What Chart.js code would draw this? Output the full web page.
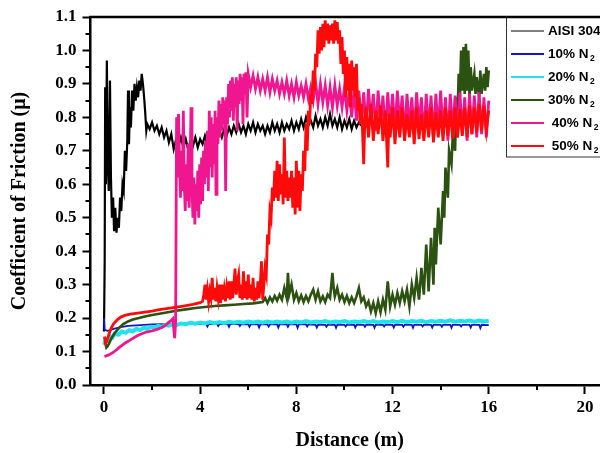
<!DOCTYPE html>
<html>
<head>
<meta charset="utf-8">
<title>Coefficient of friction against sliding distance</title>
<script src="https://cdn.jsdelivr.net/npm/chart.js@4/dist/chart.umd.min.js"></script>
<style>
  html, body { margin: 0; padding: 0; background: #fff; overflow: hidden; }
  #wrap { position: relative; width: 630px; height: 453px; }
</style>
</head>
<body>
<div id="wrap"><canvas id="cof"></canvas></div>
<script>
/* Coefficient of friction against sliding distance for plain AISI 304
   and the four nitrided conditions (10-50 % N2). Each trace is a list of
   [distance m, friction coefficient] pairs;
   the noisy stretches are kept as up/down pairs so the band shows. */

var seriesLabels = ["AISI 304", "10% N\u2082", "20% N\u2082", "30% N\u2082", " 40% N\u2082", " 50% N\u2082"];

var xTickValues = [0, 4, 8, 12, 16, 20];
var xMinorValues = [2, 6, 10, 14, 18];
var yTickValues = [0, 0.1, 0.2, 0.3, 0.4, 0.5, 0.6, 0.7, 0.8, 0.9, 1.0, 1.1];
var yMinorValues = [0.05, 0.15, 0.25, 0.35, 0.45, 0.55, 0.65, 0.75, 0.85, 0.95, 1.05];

var aisi304 = [
  [0, 0.16], [0.03, 0.37], [0.05, 0.89], [0.08, 0.60], [0.12, 0.97], [0.16, 0.66], [0.20, 0.58], [0.25, 0.91],
  [0.29, 0.62], [0.33, 0.50], [0.38, 0.56], [0.42, 0.46], [0.47, 0.53], [0.52, 0.455], [0.57, 0.50], [0.62, 0.47],
  [0.67, 0.56], [0.72, 0.52], [0.77, 0.60], [0.82, 0.58], [0.87, 0.70], [0.92, 0.64], [0.97, 0.73], [1.00, 0.88],
  [1.04, 0.72], [1.08, 0.83], [1.12, 0.77], [1.17, 0.88], [1.22, 0.82], [1.27, 0.90], [1.32, 0.85], [1.37, 0.89],
  [1.42, 0.86], [1.47, 0.91], [1.52, 0.88], [1.57, 0.93], [1.62, 0.90], [1.67, 0.86], [1.71, 0.82], [1.76, 0.76],
  [1.80, 0.78], [1.9, 0.765], [2.0, 0.785], [2.1, 0.76], [2.2, 0.775], [2.3, 0.75], [2.4, 0.77], [2.5, 0.74],
  [2.6, 0.76], [2.7, 0.725], [2.8, 0.75], [2.9, 0.705], [3.0, 0.735], [3.1, 0.715], [3.2, 0.74], [3.3, 0.71],
  [3.4, 0.735], [3.5, 0.705], [3.6, 0.73], [3.7, 0.715], [3.8, 0.74], [3.9, 0.71], [4.0, 0.735], [4.1, 0.72],
  [4.2, 0.745], [4.3, 0.72], [4.4, 0.75], [4.5, 0.73], [4.6, 0.755], [4.7, 0.735], [4.8, 0.76], [4.9, 0.74],
  [5.0, 0.765], [5.1, 0.745], [5.2, 0.77], [5.3, 0.75], [5.4, 0.775], [5.5, 0.755], [5.6, 0.78], [5.7, 0.755],
  [5.8, 0.775], [5.9, 0.75], [6.0, 0.78], [6.1, 0.76], [6.2, 0.785], [6.3, 0.755], [6.4, 0.78], [6.5, 0.76],
  [6.6, 0.775], [6.7, 0.75], [6.8, 0.775], [6.9, 0.755], [7.0, 0.785], [7.1, 0.76], [7.2, 0.78], [7.3, 0.755],
  [7.4, 0.785], [7.5, 0.76], [7.6, 0.78], [7.7, 0.765], [7.8, 0.79], [7.9, 0.76], [8.0, 0.785], [8.1, 0.765],
  [8.2, 0.795], [8.3, 0.77], [8.4, 0.80], [8.5, 0.775], [8.6, 0.79], [8.7, 0.77], [8.8, 0.805], [8.9, 0.775],
  [9.0, 0.795], [9.1, 0.77], [9.2, 0.80], [9.3, 0.775], [9.4, 0.81], [9.5, 0.775], [9.6, 0.795], [9.7, 0.77],
  [9.8, 0.80], [9.9, 0.765], [10.0, 0.79], [10.1, 0.77], [10.2, 0.795], [10.3, 0.765], [10.4, 0.79], [10.5, 0.77],
  [10.6, 0.785], [10.7, 0.775]
];

var nitrided10 = [
  [0, 0.20], [0.03, 0.165], [0.15, 0.162], [0.4, 0.168], [0.7, 0.173], [1.0, 0.177], [1.5, 0.179], [2.0, 0.181],
  [2.5, 0.182], [3.0, 0.182], [3.5, 0.182], [4.0, 0.182], [4.25, 0.182], [4.3, 0.175], [4.35, 0.182], [4.7, 0.182],
  [4.75, 0.176], [4.8, 0.182], [5.15, 0.182], [5.2, 0.174], [5.25, 0.182], [5.6, 0.182], [5.65, 0.176], [5.7, 0.182],
  [6.0, 0.181], [6.05, 0.174], [6.1, 0.181], [6.4, 0.181], [6.45, 0.172], [6.5, 0.181], [6.8, 0.181], [6.85, 0.175],
  [6.9, 0.181], [7.2, 0.181], [7.25, 0.172], [7.3, 0.181], [7.6, 0.181], [7.65, 0.174], [7.7, 0.181], [8.0, 0.181],
  [8.05, 0.171], [8.1, 0.181], [8.4, 0.181], [8.45, 0.175], [8.5, 0.181], [8.8, 0.180], [8.85, 0.172], [8.9, 0.180],
  [9.2, 0.180], [9.25, 0.174], [9.3, 0.180], [9.6, 0.180], [9.65, 0.171], [9.7, 0.180], [10.0, 0.180], [10.05, 0.175],
  [10.1, 0.180], [10.4, 0.180], [10.45, 0.172], [10.5, 0.180], [10.8, 0.180], [10.85, 0.174], [10.9, 0.180], [11.2, 0.180],
  [11.25, 0.171], [11.3, 0.180], [11.6, 0.180], [11.65, 0.175], [11.7, 0.180], [12.0, 0.180], [12.05, 0.172], [12.1, 0.180],
  [12.4, 0.180], [12.45, 0.174], [12.5, 0.180], [12.8, 0.180], [12.85, 0.171], [12.9, 0.180], [13.2, 0.180], [13.25, 0.175],
  [13.3, 0.180], [13.6, 0.180], [13.65, 0.172], [13.7, 0.180], [14.0, 0.180], [14.05, 0.174], [14.1, 0.180], [14.4, 0.180],
  [14.45, 0.171], [14.5, 0.180], [14.8, 0.180], [14.85, 0.175], [14.9, 0.180], [15.2, 0.180], [15.25, 0.172], [15.3, 0.180],
  [15.6, 0.180], [15.65, 0.170], [15.7, 0.180], [16.0, 0.179]
];

var nitrided20 = [
  [0.02, 0.12], [0.05, 0.135], [0.15, 0.132], [0.25, 0.146], [0.35, 0.142], [0.45, 0.154], [0.6, 0.15], [0.75, 0.16],
  [0.9, 0.156], [1.05, 0.164], [1.2, 0.16], [1.35, 0.168], [1.5, 0.164], [1.65, 0.171], [1.8, 0.168], [1.95, 0.174],
  [2.1, 0.172], [2.25, 0.177], [2.4, 0.174], [2.55, 0.179], [2.7, 0.177], [2.85, 0.181], [3.0, 0.179], [3.2, 0.184],
  [3.4, 0.182], [3.6, 0.186], [3.8, 0.183], [4.0, 0.187], [4.2, 0.184], [4.4, 0.188], [4.6, 0.185], [4.8, 0.188],
  [5.0, 0.185], [5.2, 0.189], [5.4, 0.186], [5.6, 0.189], [5.8, 0.186], [6.0, 0.19], [6.2, 0.187], [6.4, 0.19],
  [6.6, 0.186], [6.8, 0.19], [7.0, 0.187], [7.2, 0.19], [7.4, 0.187], [7.6, 0.19], [7.8, 0.186], [8.0, 0.19],
  [8.2, 0.187], [8.4, 0.191], [8.6, 0.187], [8.8, 0.19], [9.0, 0.188], [9.2, 0.191], [9.4, 0.187], [9.6, 0.19],
  [9.8, 0.188], [10.0, 0.191], [10.2, 0.187], [10.4, 0.19], [10.6, 0.188], [10.8, 0.191], [11.0, 0.188], [11.2, 0.191],
  [11.4, 0.187], [11.6, 0.19], [11.8, 0.188], [12.0, 0.191], [12.2, 0.188], [12.4, 0.192], [12.6, 0.188], [12.8, 0.191],
  [13.0, 0.189], [13.2, 0.192], [13.4, 0.188], [13.6, 0.191], [13.8, 0.189], [14.0, 0.192], [14.2, 0.189], [14.4, 0.193],
  [14.6, 0.189], [14.8, 0.192], [15.0, 0.19], [15.2, 0.193], [15.4, 0.189], [15.6, 0.193], [15.8, 0.19], [16.0, 0.192]
];

var nitrided30 = [
  [0.05, 0.13], [0.1, 0.112], [0.15, 0.116], [0.22, 0.125], [0.3, 0.138], [0.4, 0.15], [0.5, 0.16], [0.65, 0.172],
  [0.8, 0.182], [1.0, 0.19], [1.2, 0.196], [1.45, 0.2], [1.7, 0.205], [2.0, 0.209], [2.3, 0.213], [2.6, 0.217],
  [3.0, 0.222], [3.4, 0.226], [3.8, 0.23], [4.2, 0.233], [4.6, 0.236], [5.0, 0.238], [5.4, 0.24], [5.8, 0.242],
  [6.2, 0.244], [6.6, 0.248], [6.7, 0.26], [6.8, 0.245], [6.9, 0.262], [7.0, 0.25], [7.1, 0.266], [7.2, 0.252],
  [7.3, 0.27], [7.4, 0.255], [7.5, 0.29], [7.6, 0.26], [7.65, 0.335], [7.7, 0.27], [7.8, 0.30], [7.9, 0.255],
  [8.0, 0.275], [8.1, 0.25], [8.2, 0.268], [8.3, 0.248], [8.4, 0.266], [8.5, 0.25], [8.6, 0.27], [8.7, 0.285],
  [8.8, 0.255], [8.9, 0.28], [9.0, 0.25], [9.1, 0.265], [9.2, 0.248], [9.3, 0.27], [9.4, 0.26], [9.5, 0.335],
  [9.55, 0.29], [9.6, 0.265], [9.7, 0.29], [9.8, 0.255], [9.9, 0.27], [10.0, 0.248], [10.1, 0.266], [10.2, 0.245],
  [10.3, 0.262], [10.4, 0.245], [10.5, 0.265], [10.6, 0.29], [10.7, 0.25], [10.8, 0.262], [10.9, 0.235], [11.0, 0.25],
  [11.1, 0.22], [11.2, 0.245], [11.3, 0.215], [11.4, 0.25], [11.5, 0.218], [11.6, 0.255], [11.7, 0.225], [11.8, 0.31],
  [11.9, 0.235], [12.0, 0.27], [12.1, 0.24], [12.2, 0.275], [12.3, 0.245], [12.4, 0.28], [12.5, 0.25], [12.6, 0.285],
  [12.7, 0.235], [12.8, 0.30], [12.9, 0.26], [13.0, 0.32], [13.1, 0.255], [13.2, 0.35], [13.3, 0.27], [13.4, 0.42],
  [13.5, 0.28], [13.6, 0.44], [13.7, 0.30], [13.75, 0.47], [13.8, 0.36], [13.9, 0.53], [14.0, 0.42], [14.1, 0.58],
  [14.15, 0.50], [14.2, 0.65], [14.3, 0.56], [14.35, 0.70], [14.45, 0.66], [14.5, 0.74], [14.6, 0.70], [14.65, 0.86],
  [14.7, 0.80], [14.75, 0.93], [14.8, 0.86], [14.85, 1.0], [14.9, 0.88], [14.95, 1.01], [15.0, 0.87], [15.05, 1.02],
  [15.1, 0.88], [15.15, 1.0], [15.2, 0.86], [15.25, 0.95], [15.3, 0.88], [15.4, 0.93], [15.45, 0.87], [15.5, 0.92],
  [15.6, 0.86], [15.65, 0.94], [15.7, 0.87], [15.8, 0.93], [15.85, 0.88], [15.9, 0.95], [15.95, 0.89], [16.0, 0.94]
];

var nitrided40 = [
  [0.02, 0.085], [0.2, 0.09], [0.4, 0.098], [0.6, 0.11], [0.87, 0.125], [1.1, 0.135], [1.4, 0.148], [1.7, 0.157],
  [2.0, 0.162], [2.2, 0.166], [2.4, 0.172], [2.55, 0.178], [2.7, 0.188], [2.8, 0.193], [2.86, 0.198], [2.9, 0.17],
  [2.94, 0.14], [2.98, 0.19], [3.02, 0.80], [3.06, 0.62], [3.1, 0.81], [3.14, 0.66], [3.18, 0.56], [3.22, 0.70],
  [3.26, 0.58], [3.3, 0.82], [3.34, 0.60], [3.38, 0.52], [3.42, 0.66], [3.46, 0.55], [3.5, 0.72], [3.54, 0.53],
  [3.58, 0.64], [3.62, 0.83], [3.66, 0.58], [3.7, 0.50], [3.74, 0.62], [3.78, 0.48], [3.82, 0.60], [3.86, 0.52],
  [3.9, 0.64], [3.94, 0.50], [3.98, 0.66], [4.02, 0.54], [4.06, 0.68], [4.1, 0.55], [4.14, 0.70], [4.18, 0.60],
  [4.22, 0.73], [4.26, 0.62], [4.3, 0.76], [4.34, 0.58], [4.38, 0.82], [4.42, 0.65], [4.46, 0.80], [4.5, 0.62],
  [4.54, 0.78], [4.58, 0.66], [4.62, 0.82], [4.66, 0.57], [4.7, 0.80], [4.74, 0.72], [4.78, 0.85], [4.82, 0.74],
  [4.86, 0.84], [4.9, 0.76], [4.94, 0.86], [4.98, 0.78], [5.02, 0.85], [5.06, 0.58], [5.1, 0.86], [5.14, 0.78],
  [5.18, 0.90], [5.22, 0.80], [5.26, 0.91], [5.3, 0.82], [5.34, 0.92], [5.38, 0.79], [5.42, 0.90], [5.46, 0.83],
  [5.5, 0.92], [5.54, 0.76], [5.58, 0.91], [5.62, 0.84], [5.66, 0.93], [5.7, 0.85], [5.74, 0.92], [5.78, 0.78],
  [5.82, 0.93], [5.86, 0.87], [5.9, 0.935], [5.95, 0.80], [6.0, 0.93], [6.1, 0.89], [6.2, 0.925], [6.3, 0.885],
  [6.4, 0.92], [6.5, 0.88], [6.6, 0.915], [6.7, 0.88], [6.8, 0.92], [6.9, 0.875], [7.0, 0.915], [7.1, 0.88],
  [7.2, 0.91], [7.3, 0.87], [7.4, 0.905], [7.5, 0.87], [7.6, 0.91], [7.7, 0.865], [7.8, 0.90], [7.9, 0.86],
  [8.0, 0.905], [8.1, 0.865], [8.2, 0.895], [8.3, 0.86], [8.4, 0.90], [8.5, 0.855], [8.6, 0.89], [8.7, 0.85],
  [8.8, 0.905], [8.9, 0.84], [9.0, 0.90], [9.1, 0.845], [9.2, 0.895], [9.3, 0.835], [9.4, 0.89], [9.5, 0.83],
  [9.6, 0.895], [9.7, 0.835], [9.8, 0.885], [9.9, 0.83], [10.0, 0.89], [10.1, 0.82], [10.2, 0.88], [10.3, 0.80],
  [10.4, 0.885], [10.5, 0.79], [10.6, 0.88], [10.7, 0.78], [10.8, 0.875], [10.9, 0.77], [11.0, 0.885], [11.1, 0.79],
  [11.2, 0.87], [11.3, 0.76], [11.4, 0.88], [11.5, 0.78], [11.6, 0.865], [11.7, 0.75], [11.8, 0.875], [11.9, 0.77],
  [12.0, 0.87], [12.1, 0.76], [12.2, 0.88], [12.3, 0.78], [12.4, 0.865], [12.5, 0.74], [12.6, 0.87], [12.7, 0.77],
  [12.8, 0.86], [12.9, 0.75], [13.0, 0.875], [13.1, 0.77], [13.2, 0.86], [13.3, 0.74], [13.4, 0.87], [13.5, 0.76],
  [13.6, 0.865], [13.7, 0.735], [13.8, 0.87], [13.9, 0.76], [14.0, 0.88], [14.1, 0.75], [14.2, 0.86], [14.3, 0.73],
  [14.4, 0.87], [14.5, 0.76], [14.6, 0.865], [14.7, 0.74], [14.8, 0.875], [14.9, 0.75], [15.0, 0.86], [15.1, 0.73],
  [15.2, 0.87], [15.3, 0.75], [15.4, 0.865], [15.5, 0.74], [15.6, 0.875], [15.7, 0.75], [15.8, 0.86], [15.9, 0.74],
  [16.0, 0.85]
];

var nitrided50 = [
  [0.02, 0.145], [0.07, 0.125], [0.12, 0.132], [0.2, 0.15], [0.3, 0.17], [0.4, 0.183], [0.55, 0.195], [0.7, 0.203],
  [0.87, 0.208], [1.1, 0.212], [1.4, 0.215], [1.7, 0.218], [2.0, 0.221], [2.3, 0.225], [2.6, 0.228], [2.95, 0.232],
  [3.3, 0.236], [3.7, 0.241], [4.0, 0.246], [4.1, 0.25], [4.15, 0.27], [4.2, 0.30], [4.25, 0.255], [4.3, 0.285],
  [4.35, 0.25], [4.4, 0.28], [4.45, 0.26], [4.5, 0.32], [4.55, 0.255], [4.6, 0.29], [4.65, 0.25], [4.7, 0.29],
  [4.75, 0.26], [4.8, 0.30], [4.85, 0.245], [4.9, 0.30], [4.95, 0.255], [5.0, 0.285], [5.05, 0.25], [5.1, 0.29],
  [5.15, 0.26], [5.2, 0.31], [5.25, 0.255], [5.3, 0.31], [5.35, 0.26], [5.4, 0.30], [5.45, 0.348], [5.5, 0.27],
  [5.55, 0.31], [5.6, 0.33], [5.65, 0.26], [5.7, 0.30], [5.75, 0.255], [5.8, 0.34], [5.85, 0.26], [5.9, 0.31],
  [5.95, 0.255], [6.0, 0.33], [6.05, 0.26], [6.1, 0.30], [6.15, 0.255], [6.2, 0.32], [6.25, 0.25], [6.3, 0.29],
  [6.35, 0.255], [6.4, 0.31], [6.45, 0.26], [6.5, 0.30], [6.55, 0.37], [6.6, 0.255], [6.65, 0.30],
  [6.7, 0.35], [6.75, 0.33], [6.8, 0.45], [6.85, 0.42], [6.9, 0.52], [6.95, 0.50], [7.0, 0.59], [7.05, 0.55],
  [7.1, 0.64], [7.15, 0.56], [7.2, 0.67], [7.25, 0.55], [7.3, 0.66], [7.35, 0.57], [7.4, 0.63], [7.45, 0.54],
  [7.5, 0.74], [7.55, 0.56], [7.6, 0.64], [7.65, 0.55], [7.7, 0.62], [7.75, 0.56], [7.8, 0.64], [7.85, 0.53],
  [7.9, 0.62], [7.95, 0.51], [8.0, 0.67], [8.05, 0.53], [8.1, 0.64], [8.15, 0.52], [8.2, 0.63], [8.25, 0.58],
  [8.3, 0.70], [8.35, 0.64], [8.4, 0.78], [8.45, 0.70], [8.5, 0.82], [8.55, 0.78], [8.6, 0.87], [8.65, 0.84],
  [8.7, 0.94], [8.75, 0.88], [8.8, 0.99], [8.85, 0.95], [8.9, 1.06], [8.95, 0.99], [9.0, 1.07], [9.05, 1.0],
  [9.1, 1.08], [9.15, 1.01], [9.2, 1.09], [9.25, 1.03], [9.3, 1.08], [9.35, 1.02], [9.4, 1.075], [9.45, 1.03],
  [9.5, 1.08], [9.55, 1.02], [9.6, 1.09], [9.65, 1.03], [9.7, 1.085], [9.75, 1.02], [9.8, 1.06], [9.85, 0.96],
  [9.9, 1.04], [9.95, 0.93], [10.0, 1.0], [10.05, 0.86], [10.1, 0.98], [10.15, 0.88], [10.2, 0.96], [10.25, 0.83],
  [10.3, 0.97], [10.35, 0.88], [10.4, 0.95], [10.45, 0.86], [10.5, 0.96], [10.55, 0.82], [10.6, 0.86], [10.65, 0.78],
  [10.7, 0.84], [10.75, 0.76], [10.8, 0.66], [10.85, 0.80], [10.9, 0.83], [11.0, 0.74], [11.1, 0.84], [11.2, 0.73],
  [11.3, 0.82], [11.4, 0.75], [11.5, 0.835], [11.6, 0.73], [11.7, 0.82], [11.8, 0.65], [11.85, 0.81], [11.9, 0.74],
  [12.0, 0.83], [12.1, 0.72], [12.2, 0.82], [12.3, 0.74], [12.4, 0.83], [12.5, 0.73], [12.6, 0.81], [12.7, 0.74],
  [12.8, 0.82], [12.9, 0.72], [13.0, 0.83], [13.1, 0.735], [13.2, 0.81], [13.3, 0.73], [13.4, 0.82], [13.5, 0.74],
  [13.6, 0.83], [13.7, 0.725], [13.8, 0.815], [13.9, 0.74], [14.0, 0.82], [14.1, 0.73], [14.2, 0.83], [14.3, 0.745],
  [14.4, 0.82], [14.5, 0.735], [14.6, 0.83], [14.7, 0.74], [14.8, 0.825], [14.9, 0.745], [15.0, 0.83], [15.1, 0.74],
  [15.2, 0.835], [15.3, 0.75], [15.4, 0.83], [15.5, 0.755], [15.6, 0.84], [15.7, 0.76], [15.8, 0.835], [15.9, 0.76],
  [16.0, 0.82]
];

(function () {
  "use strict";

  var serif = "'Liberation Serif', 'Times New Roman', serif";
  var sans = "'Liberation Sans', Arial, sans-serif";

  // colour / stroke per trace, same order as seriesLabels; key = stroke in the box
  var traceStyle = [
    { color: "#000000", width: 2.2, key: 1 },
    { color: "#1515d0", width: 1.8, key: 2 },
    { color: "#1fe3ea", width: 4, key: 2 },
    { color: "#2b5210", width: 2.6, key: 2 },
    { color: "#f0168f", width: 2.8, key: 2 },
    { color: "#ff0a0a", width: 2.8, key: 2 }
  ];
  var traces = [aisi304, nitrided10, nitrided20, nitrided30, nitrided40, nitrided50];

  var datasets = traces.map(function (t, i) {
    return {
      label: seriesLabels[i],
      data: t.map(function (p) { return { x: p[0], y: p[1] }; }),
      borderColor: traceStyle[i].color,
      backgroundColor: traceStyle[i].color,
      borderWidth: traceStyle[i].width,
      pointRadius: 0,
      tension: 0,
      fill: false,
      // later conditions are plotted over the earlier ones
      order: traces.length - i
    };
  });

  // minor ticks, the closed top edge and the boxed key
  var frame = {
    id: "frame",
    afterDraw: function (chart) {
      var ctx = chart.ctx, a = chart.chartArea;
      var xs = chart.scales.x, ys = chart.scales.y;
      ctx.save();
      ctx.strokeStyle = "#000";
      ctx.lineWidth = 2;
      ctx.beginPath();
      xMinorValues.forEach(function (v) {
        var px = Math.round(xs.getPixelForValue(v));
        ctx.moveTo(px, a.bottom); ctx.lineTo(px, a.bottom + 5);
      });
      yMinorValues.forEach(function (v) {
        var py = Math.round(ys.getPixelForValue(v));
        ctx.moveTo(a.left, py); ctx.lineTo(a.left - 5, py);
      });
      ctx.stroke();

      // key box, runs off the right edge
      var bx = 506, by = a.top, bh = 140;
      ctx.fillStyle = "#fff";
      ctx.fillRect(bx, by, chart.width - bx + 5, bh);
      ctx.lineWidth = 1;
      ctx.strokeStyle = "#333";
      ctx.strokeRect(bx + 0.5, by, chart.width - bx + 5, bh);

      ctx.textBaseline = "middle";
      ctx.textAlign = "left";
      seriesLabels.forEach(function (name, i) {
        var y = by + 14 + i * 23;
        ctx.strokeStyle = traceStyle[i].color;
        ctx.lineWidth = traceStyle[i].key;
        ctx.beginPath();
        ctx.moveTo(511, y); ctx.lineTo(544, y);
        ctx.stroke();
        var parts = name.split("\u2082");
        ctx.fillStyle = "#000";
        ctx.font = "bold 13.5px " + sans;
        ctx.fillText(parts[0], 548, y);
        if (parts.length > 1) {
          var w = ctx.measureText(parts[0]).width;
          ctx.font = "bold 8.5px " + sans;
          ctx.fillText("2", 548 + w + 1.5, y + 5);
        }
      });

      ctx.strokeStyle = "#000";
      ctx.lineWidth = 2.5;
      ctx.beginPath();
      ctx.moveTo(a.left - 1.25, a.top);
      ctx.lineTo(chart.width, a.top);
      ctx.stroke();
      ctx.restore();
    }
  };

  var tickFont = { family: serif, size: 17, weight: "bold" };
  var titleFont = { family: serif, size: 20, weight: "bold" };

  new Chart(document.getElementById("cof"), {
    type: "line",
    data: { datasets: datasets },
    plugins: [frame],
    options: {
      responsive: true,
      maintainAspectRatio: false,
      animation: false,
      events: [],
      layout: { padding: { top: 17, right: 21, left: 0, bottom: 0 } },
      plugins: { legend: { display: false }, tooltip: { enabled: false } },
      scales: {
        x: {
          type: "linear",
          min: -0.56,
          max: 21,
          afterBuildTicks: function (s) {
            s.ticks = xTickValues.map(function (v) { return { value: v }; });
          },
          afterFit: function (s) { s.height = 68; },
          ticks: { color: "#000", font: tickFont, padding: 3, maxRotation: 0 },
          grid: { drawOnChartArea: false, tickLength: 9, tickWidth: 2, tickColor: "#000" },
          border: { display: true, color: "#000", width: 2.5 },
          title: { display: true, text: "Distance (m)", color: "#000", font: titleFont,
                   padding: { top: 0, bottom: 0 } }
        },
        y: {
          min: 0,
          max: 1.1,
          afterBuildTicks: function (s) {
            s.ticks = yTickValues.map(function (v) { return { value: v }; });
          },
          afterFit: function (s) { s.width = 90.5; },
          ticks: {
            color: "#000", font: tickFont, padding: 6,
            callback: function (v) { return Number(v).toFixed(1); }
          },
          grid: { drawOnChartArea: false, tickLength: 8, tickWidth: 2, tickColor: "#000" },
          border: { display: true, color: "#000", width: 2.5 },
          title: { display: true, text: "Coefficient of Friction (\u03bc)", color: "#000", font: titleFont,
                   padding: { top: 8, bottom: 0 } }
        }
      }
    }
  });
})();
</script>
</body>
</html>
